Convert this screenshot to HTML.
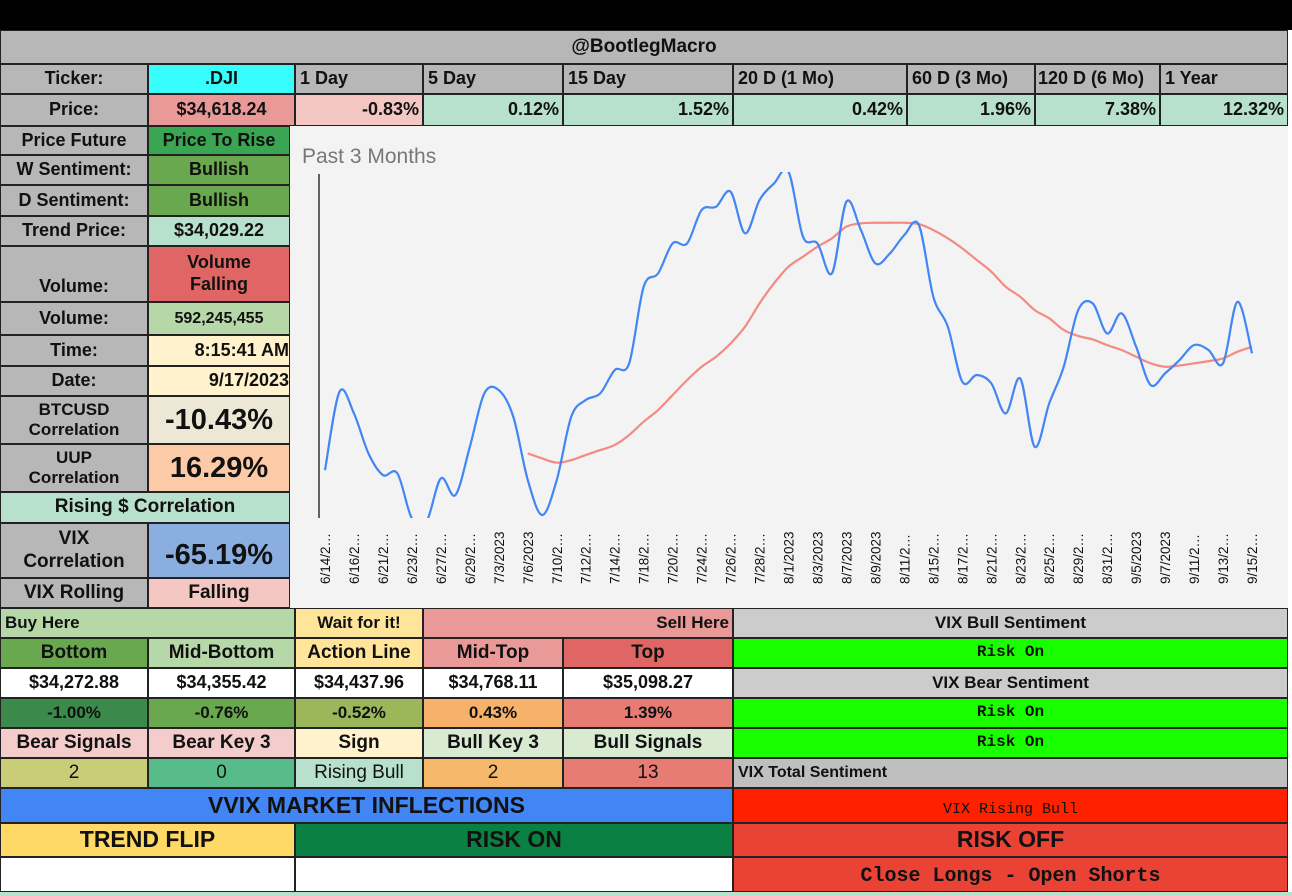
<!DOCTYPE html>
<html><head><meta charset="utf-8">
<style>
html,body{margin:0;padding:0;background:#fff;}
#root{position:relative;width:1292px;height:896px;overflow:hidden;background:#fff;font-family:"Liberation Sans",Arial,sans-serif;}
.c{position:absolute;box-sizing:border-box;border:1px solid #222;display:flex;align-items:center;justify-content:center;font-weight:bold;font-size:18px;color:#111;text-align:center;line-height:1.2;white-space:nowrap;overflow:hidden;}
.l{justify-content:flex-start;padding-left:4px;}
.r{justify-content:flex-end;padding-right:3px;}
.m{font-family:"Liberation Mono",monospace;font-size:16px;}
.big{font-size:29px;}
.hd{font-size:23px;}
</style></head><body>
<div id="root">
<div style="position:absolute;left:0;top:0;width:1292px;height:30px;background:#000"></div>
<div class="c" style="left:0;top:30px;width:1288px;height:34px;background:#b7b7b7;font-size:19px">@BootlegMacro</div>

<div class="c" style="left:0;top:64px;width:148px;height:30px;background:#b7b7b7">Ticker:</div>
<div class="c" style="left:148px;top:64px;width:147px;height:30px;background:#38fdfd">.DJI</div>
<div class="c l" style="left:295px;top:64px;width:128px;height:30px;background:#b7b7b7">1 Day</div>
<div class="c l" style="left:423px;top:64px;width:140px;height:30px;background:#b7b7b7">5 Day</div>
<div class="c l" style="left:563px;top:64px;width:170px;height:30px;background:#b7b7b7">15 Day</div>
<div class="c l" style="left:733px;top:64px;width:174px;height:30px;background:#b7b7b7">20 D (1 Mo)</div>
<div class="c l" style="left:907px;top:64px;width:128px;height:30px;background:#b7b7b7">60 D (3 Mo)</div>
<div class="c l" style="left:1035px;top:64px;width:125px;height:30px;background:#b7b7b7;padding-left:2px">120 D (6 Mo)</div>
<div class="c l" style="left:1160px;top:64px;width:128px;height:30px;background:#b7b7b7">1 Year</div>

<div class="c" style="left:0;top:94px;width:148px;height:32px;background:#b7b7b7">Price:</div>
<div class="c" style="left:148px;top:94px;width:147px;height:32px;background:#ea9999">$34,618.24</div>
<div class="c r" style="left:295px;top:94px;width:128px;height:32px;background:#f4c7c3">-0.83%</div>
<div class="c r" style="left:423px;top:94px;width:140px;height:32px;background:#b7e1cd">0.12%</div>
<div class="c r" style="left:563px;top:94px;width:170px;height:32px;background:#b7e1cd">1.52%</div>
<div class="c r" style="left:733px;top:94px;width:174px;height:32px;background:#b7e1cd">0.42%</div>
<div class="c r" style="left:907px;top:94px;width:128px;height:32px;background:#b7e1cd">1.96%</div>
<div class="c r" style="left:1035px;top:94px;width:125px;height:32px;background:#b7e1cd">7.38%</div>
<div class="c r" style="left:1160px;top:94px;width:128px;height:32px;background:#b7e1cd">12.32%</div>

<div class="c" style="left:0;top:126px;width:148px;height:29px;background:#b7b7b7">Price Future</div>
<div class="c" style="left:148px;top:126px;width:142px;height:29px;background:#3aa653">Price To Rise</div>
<div class="c" style="left:0;top:155px;width:148px;height:30px;background:#b7b7b7">W Sentiment:</div>
<div class="c" style="left:148px;top:155px;width:142px;height:30px;background:#6aa84f">Bullish</div>
<div class="c" style="left:0;top:185px;width:148px;height:31px;background:#b7b7b7">D Sentiment:</div>
<div class="c" style="left:148px;top:185px;width:142px;height:31px;background:#6aa84f">Bullish</div>
<div class="c" style="left:0;top:216px;width:148px;height:30px;background:#b7b7b7">Trend Price:</div>
<div class="c" style="left:148px;top:216px;width:142px;height:30px;background:#b7e1cd">$34,029.22</div>
<div class="c" style="left:0;top:246px;width:148px;height:56px;background:#b7b7b7;align-items:flex-end;padding-bottom:3px">Volume:</div>
<div class="c" style="left:148px;top:246px;width:142px;height:56px;background:#e06666;white-space:normal">Volume<br>Falling</div>
<div class="c" style="left:0;top:302px;width:148px;height:33px;background:#b7b7b7">Volume:</div>
<div class="c" style="left:148px;top:302px;width:142px;height:33px;background:#b6d7a8;font-size:16px">592,245,455</div>
<div class="c" style="left:0;top:335px;width:148px;height:31px;background:#b7b7b7">Time:</div>
<div class="c r" style="left:148px;top:335px;width:142px;height:31px;background:#fff2cc;padding-right:0">8:15:41 AM</div>
<div class="c" style="left:0;top:366px;width:148px;height:30px;background:#b7b7b7">Date:</div>
<div class="c r" style="left:148px;top:366px;width:142px;height:30px;background:#fff2cc;padding-right:0">9/17/2023</div>
<div class="c" style="left:0;top:396px;width:148px;height:48px;background:#b7b7b7;font-size:17px">BTCUSD<br>Correlation</div>
<div class="c big" style="left:148px;top:396px;width:142px;height:48px;background:#ede7d5">-10.43%</div>
<div class="c" style="left:0;top:444px;width:148px;height:48px;background:#b7b7b7;font-size:17px">UUP<br>Correlation</div>
<div class="c big" style="left:148px;top:444px;width:142px;height:48px;background:#fccaa6">16.29%</div>
<div class="c" style="left:0;top:492px;width:290px;height:31px;background:#b7e1cd;font-size:19px">Rising $ Correlation</div>
<div class="c" style="left:0;top:523px;width:148px;height:55px;background:#b7b7b7;font-size:19px">VIX<br>Correlation</div>
<div class="c big" style="left:148px;top:523px;width:142px;height:55px;background:#8aaee0;padding-top:10px">-65.19%</div>
<div class="c" style="left:0;top:578px;width:148px;height:30px;background:#b7b7b7;font-size:19px">VIX Rolling</div>
<div class="c" style="left:148px;top:578px;width:142px;height:30px;background:#f4c7c3;font-size:19px">Falling</div>

<svg id="chart" style="position:absolute;left:290px;top:126px" width="998" height="482"></svg>

<div class="c l" style="left:0;top:608px;width:295px;height:30px;background:#b6d7a8;font-size:17px">Buy Here</div>
<div class="c" style="left:295px;top:608px;width:128px;height:30px;background:#ffe599;font-size:17px">Wait for it!</div>
<div class="c r" style="left:423px;top:608px;width:310px;height:30px;background:#ea9999;font-size:17px">Sell Here</div>
<div class="c" style="left:0;top:638px;width:148px;height:30px;background:#6aa84f;font-size:19px">Bottom</div>
<div class="c" style="left:148px;top:638px;width:147px;height:30px;background:#b6d7a8;font-size:19px">Mid-Bottom</div>
<div class="c" style="left:295px;top:638px;width:128px;height:30px;background:#ffe599;font-size:19px">Action Line</div>
<div class="c" style="left:423px;top:638px;width:140px;height:30px;background:#ea9999;font-size:19px">Mid-Top</div>
<div class="c" style="left:563px;top:638px;width:170px;height:30px;background:#e06666;font-size:19px">Top</div>
<div class="c" style="left:0;top:668px;width:148px;height:30px;background:#fff">$34,272.88</div>
<div class="c" style="left:148px;top:668px;width:147px;height:30px;background:#fff">$34,355.42</div>
<div class="c" style="left:295px;top:668px;width:128px;height:30px;background:#fff">$34,437.96</div>
<div class="c" style="left:423px;top:668px;width:140px;height:30px;background:#fff">$34,768.11</div>
<div class="c" style="left:563px;top:668px;width:170px;height:30px;background:#fff">$35,098.27</div>
<div class="c" style="left:0;top:698px;width:148px;height:30px;background:#3b8a4b;font-size:17px">-1.00%</div>
<div class="c" style="left:148px;top:698px;width:147px;height:30px;background:#6aa84f;font-size:17px">-0.76%</div>
<div class="c" style="left:295px;top:698px;width:128px;height:30px;background:#9bb75a;font-size:17px">-0.52%</div>
<div class="c" style="left:423px;top:698px;width:140px;height:30px;background:#f6b26b;font-size:17px">0.43%</div>
<div class="c" style="left:563px;top:698px;width:170px;height:30px;background:#e67c73;font-size:17px">1.39%</div>
<div class="c" style="left:0;top:728px;width:148px;height:30px;background:#f4cccc;font-size:19px">Bear Signals</div>
<div class="c" style="left:148px;top:728px;width:147px;height:30px;background:#f4cccc;font-size:19px">Bear Key 3</div>
<div class="c" style="left:295px;top:728px;width:128px;height:30px;background:#fff2cc;font-size:19px">Sign</div>
<div class="c" style="left:423px;top:728px;width:140px;height:30px;background:#d9ead3;font-size:19px">Bull Key 3</div>
<div class="c" style="left:563px;top:728px;width:170px;height:30px;background:#d9ead3;font-size:19px">Bull Signals</div>
<div class="c" style="left:0;top:758px;width:148px;height:30px;background:#c9cd78;font-weight:normal;font-size:19px">2</div>
<div class="c" style="left:148px;top:758px;width:147px;height:30px;background:#57bb8a;font-weight:normal;font-size:19px">0</div>
<div class="c" style="left:295px;top:758px;width:128px;height:30px;background:#b7e1cd;font-weight:normal;font-size:19px">Rising Bull</div>
<div class="c" style="left:423px;top:758px;width:140px;height:30px;background:#f6b86b;font-weight:normal;font-size:19px">2</div>
<div class="c" style="left:563px;top:758px;width:170px;height:30px;background:#e67c73;font-weight:normal;font-size:19px">13</div>
<div class="c hd" style="left:0;top:788px;width:733px;height:35px;background:#4285f4">VVIX MARKET INFLECTIONS</div>
<div class="c hd" style="left:0;top:823px;width:295px;height:34px;background:#ffd966">TREND FLIP</div>
<div class="c hd" style="left:295px;top:823px;width:438px;height:34px;background:#0b8043">RISK ON</div>
<div class="c" style="left:0;top:857px;width:295px;height:35px;background:#fff"></div>
<div class="c" style="left:295px;top:857px;width:438px;height:35px;background:#fff"></div>

<div class="c" style="left:733px;top:608px;width:555px;height:30px;background:#cccccc;font-size:17px">VIX Bull Sentiment</div>
<div class="c m" style="left:733px;top:638px;width:555px;height:30px;background:#1aff00">Risk On</div>
<div class="c" style="left:733px;top:668px;width:555px;height:30px;background:#cccccc;font-size:17px">VIX Bear Sentiment</div>
<div class="c m" style="left:733px;top:698px;width:555px;height:30px;background:#1aff00">Risk On</div>
<div class="c m" style="left:733px;top:728px;width:555px;height:30px;background:#1aff00">Risk On</div>
<div class="c l" style="left:733px;top:758px;width:555px;height:30px;background:#bfbfbf;font-size:16px">VIX Total Sentiment</div>
<div class="c m" style="left:733px;top:788px;width:555px;height:35px;background:#ff2000;font-weight:normal;font-size:15px;padding-top:8px">VIX Rising Bull</div>
<div class="c hd" style="left:733px;top:823px;width:555px;height:34px;background:#ea4335">RISK OFF</div>
<div class="c m" style="left:733px;top:857px;width:555px;height:35px;background:#ea4335;font-size:20px;padding-top:4px">Close Longs - Open Shorts</div>
<div style="position:absolute;left:0;top:892px;width:1292px;height:4px;background:#b7e1cd"></div>
</div>
<script>
const dates=["6/14/2023","6/15/2023","6/16/2023","6/20/2023","6/21/2023","6/22/2023","6/23/2023","6/26/2023","6/27/2023","6/28/2023","6/29/2023","6/30/2023","7/3/2023","7/5/2023","7/6/2023","7/7/2023","7/10/2023","7/11/2023","7/12/2023","7/13/2023","7/14/2023","7/17/2023","7/18/2023","7/19/2023","7/20/2023","7/21/2023","7/24/2023","7/25/2023","7/26/2023","7/27/2023","7/28/2023","7/31/2023","8/1/2023","8/2/2023","8/3/2023","8/4/2023","8/7/2023","8/8/2023","8/9/2023","8/10/2023","8/11/2023","8/14/2023","8/15/2023","8/16/2023","8/17/2023","8/18/2023","8/21/2023","8/22/2023","8/23/2023","8/24/2023","8/25/2023","8/28/2023","8/29/2023","8/30/2023","8/31/2023","9/1/2023","9/5/2023","9/6/2023","9/7/2023","9/8/2023","9/11/2023","9/12/2023","9/13/2023","9/14/2023","9/15/2023"];
const price=[33720,34244,34099,33832,33687,33698,33397,33375,33665,33553,33876,34233,34255,34077,33654,33420,33654,34077,34189,34233,34389,34434,34946,35036,35236,35236,35459,35481,35582,35303,35526,35637,35715,35281,35236,35036,35515,35325,35102,35169,35292,35359,34879,34679,34311,34356,34300,34099,34333,33876,34166,34411,34790,34835,34634,34768,34545,34289,34367,34456,34556,34523,34434,34846,34501];
const maStart=14;
const ma=[33832,33798,33770,33787,33821,33854,33888,33955,34044,34122,34222,34322,34411,34478,34567,34679,34835,34969,35080,35147,35214,35270,35348,35370,35374,35374,35374,35365,35325,35270,35203,35125,35047,34946,34879,34790,34735,34657,34617,34594,34556,34523,34478,34434,34411,34420,34434,34449,34467,34512,34545];
const yMin=33400,yMax=35700;
const NS="http://www.w3.org/2000/svg";
const svg=document.getElementById('chart');
const X0=35,X1=962,Ytop=48,Ybot=392;
function xs(i){return X0+(X1-X0)*i/(dates.length-1);}
function ys(v){return Ybot-(v-yMin)/(yMax-yMin)*(Ybot-Ytop);}
function mk(t,a){const e=document.createElementNS(NS,t);for(const k in a)e.setAttribute(k,a[k]);return e;}
const bg=mk('rect',{x:0,y:0,width:998,height:482,fill:'#f3f3f3'});


svg.appendChild(bg);
const title=mk('text',{x:12,y:37,'font-size':21,fill:'#777','font-family':'Liberation Sans, sans-serif'});
title.textContent='Past 3 Months';


svg.appendChild(title);
const defs=mk('defs',{});const cp=mk('clipPath',{id:'clip'});cp.appendChild(mk('rect',{x:29,y:Ytop-2,width:960,height:Ybot-Ytop+2}));defs.appendChild(cp);svg.appendChild(defs);
const axis=mk('line',{x1:29,y1:Ytop,x2:29,y2:Ybot,stroke:'#333','stroke-width':1.5});


svg.appendChild(axis);
function smooth(pts){let d='M'+pts[0][0]+','+pts[0][1];for(let i=0;i<pts.length-1;i++){const p0=pts[i-1]||pts[i],p1=pts[i],p2=pts[i+1],p3=pts[i+2]||p2;const c1x=p1[0]+(p2[0]-p0[0])/6,c1y=p1[1]+(p2[1]-p0[1])/6,c2x=p2[0]-(p3[0]-p1[0])/6,c2y=p2[1]-(p3[1]-p1[1])/6;d+=' C'+c1x+','+c1y+' '+c2x+','+c2y+' '+p2[0]+','+p2[1];}return d;}
const maPts=ma.map((v,i)=>[xs(i+maStart),ys(v)]);
const maLine=mk('path',{d:smooth(maPts),fill:'none',stroke:'#f28b82','stroke-width':2.2,'clip-path':'url(#clip)'});


svg.appendChild(maLine);
const pPts=price.map((v,i)=>[xs(i),ys(v)]);
const pLine=mk('path',{d:smooth(pPts),fill:'none',stroke:'#4285f4','stroke-width':2.2,'clip-path':'url(#clip)'});


svg.appendChild(pLine);
dates.forEach((d,i)=>{if(i%2)return;const x=xs(i)+5,y=458;let s=d.length>8?d.slice(0,d.lastIndexOf('/')+2)+'…':d;
const t=mk('text',{x:x,y:y,transform:'rotate(-90 '+x+' '+y+')','font-size':13.5,fill:'#111','font-family':'Liberation Sans, sans-serif'});
t.textContent=s;


svg.appendChild(t);});
</script>
</body></html>
